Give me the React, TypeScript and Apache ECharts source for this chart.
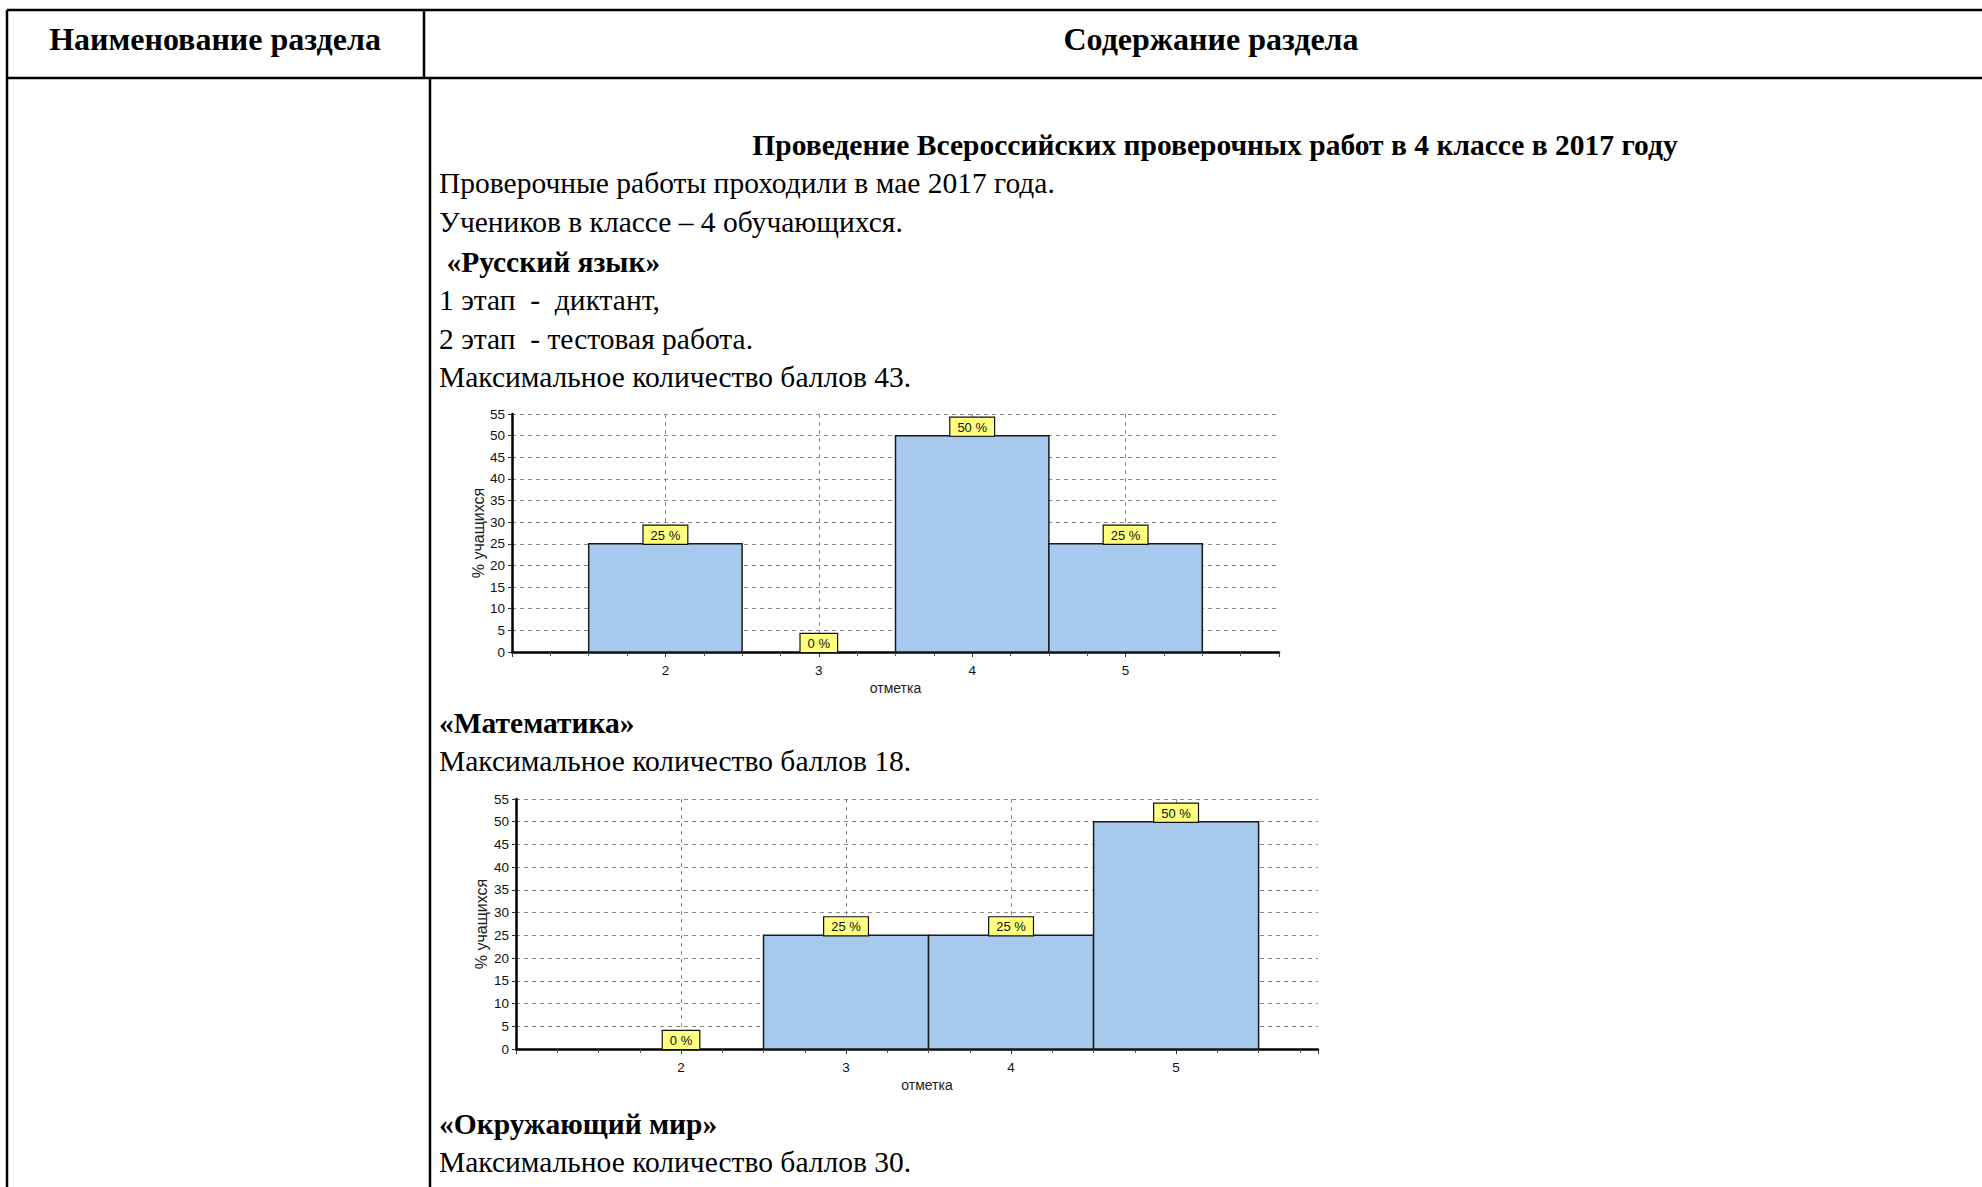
import React, { useEffect, useRef } from "react";
import * as echarts from "echarts";

// ---- data ----
const grades = ["2", "3", "4", "5"];
const russianPct = [25, 0, 50, 25];
const mathPct = [0, 25, 25, 50];
const yMax = 55;
const yStep = 5;

const headerLeft = "Наименование раздела";
const headerRight = "Содержание раздела";
const titleText = "Проведение Всероссийских проверочных работ в 4 классе в 2017 году";
const introLines = [
  "Проверочные работы проходили в мае 2017 года.",
  "Учеников в классе – 4 обучающихся.",
];
const russianHeading = " «Русский язык»";
const russianLines = [
  "1 этап  -  диктант,",
  "2 этап  - тестовая работа.",
  "Максимальное количество баллов 43.",
];
const mathHeading = "«Математика»";
const mathLines = ["Максимальное количество баллов 18."];
const worldHeading = "«Окружающий мир»";
const worldLines = ["Максимальное количество баллов 30."];
const yAxisName = "% учащихся";
const xAxisName = "отметка";

const SERIF = '"Liberation Serif", "Times New Roman", serif';
const SANS = '"Liberation Sans", Arial, sans-serif';

function toData(pct: number[]) {
  return pct.map((v, i) => [i + 1, v]);
}

function renderBar(params: any, api: any) {
  const xi = api.value(0);
  const v = api.value(1);
  const tl = api.coord([xi - 0.5, v]);
  const br = api.coord([xi + 0.5, 0]);
  const c = api.coord([xi, v]);
  const children: any[] = [];
  if (v > 0) {
    children.push({
      type: "rect",
      shape: { x: tl[0], y: tl[1], width: br[0] - tl[0], height: br[1] - tl[1] },
      style: { fill: "#A7C9EE", stroke: "#1a1a1a", lineWidth: 1.5 },
    });
  }
  children.push({
    type: "text",
    x: c[0],
    y: c[1],
    z2: 10,
    style: {
      text: v + " %",
      font: "13px " + SANS,
      fill: "#111",
      align: "center",
      verticalAlign: "bottom",
      backgroundColor: "#FFFF80",
      borderColor: "#111",
      borderWidth: 1.2,
      padding: [3, 7, 2, 7],
    },
  });
  return { type: "group", children };
}

function xAxisCfg(gridIndex: number, max: number, namePadLeft: number) {
  return {
    type: "value",
    gridIndex,
    min: 0,
    max,
    interval: 1,
    name: xAxisName,
    nameLocation: "middle",
    nameGap: 29,
    nameTextStyle: {
      fontFamily: SANS,
      fontSize: 14,
      color: "#222",
      padding: [0, 0, 0, namePadLeft],
    },
    axisLine: { show: true, onZero: false, lineStyle: { color: "#000", width: 2.5 } },
    axisTick: { show: true, length: 5, lineStyle: { color: "#333" } },
    minorTick: { show: true, splitNumber: 4, length: 4, lineStyle: { color: "#555" } },
    axisLabel: {
      margin: 11,
      color: "#111",
      fontFamily: SANS,
      fontSize: 13.5,
      formatter: (val: number) => {
        const i = Math.round(val) - 1;
        return Math.abs(val - Math.round(val)) < 1e-6 && i >= 0 && i < grades.length ? grades[i] : "";
      },
    },
    splitLine: {
      show: true,
      showMinLine: false,
      showMaxLine: false,
      lineStyle: { color: "#8a8a8a", type: [4, 4], width: 1 },
    },
  };
}

function yAxisCfg(gridIndex: number, nameGap: number) {
  return {
    type: "value",
    gridIndex,
    min: 0,
    max: yMax,
    interval: yStep,
    name: yAxisName,
    nameLocation: "middle",
    nameGap,
    nameRotate: 90,
    nameTextStyle: { fontFamily: SANS, fontSize: 16, color: "#222" },
    axisLine: { show: true, lineStyle: { color: "#000", width: 2.5 } },
    axisTick: { show: true, length: 4, lineStyle: { color: "#333" } },
    axisLabel: { margin: 7, color: "#111", fontFamily: SANS, fontSize: 13.5 },
    splitLine: {
      show: true,
      showMinLine: false,
      lineStyle: { color: "#8a8a8a", type: [4, 4], width: 1 },
    },
  };
}

function textEl(text: string, x: number, y: number, bold: boolean, size: number, align = "left") {
  return {
    type: "text",
    x,
    y,
    silent: true,
    style: {
      text,
      font: (bold ? "bold " : "") + size + "px " + SERIF,
      fill: "#000",
      align,
      verticalAlign: "middle",
    },
  };
}

function lineEl(x1: number, y1: number, x2: number, y2: number) {
  return {
    type: "line",
    silent: true,
    shape: { x1, y1, x2, y2 },
    style: { stroke: "#000", lineWidth: 2.5 },
  };
}

export default function App() {
  const ref = useRef<HTMLDivElement>(null);
  useEffect(() => {
    if (!ref.current) return;
    const chart = echarts.init(ref.current, undefined, { renderer: "svg" });
    const X0 = 439;
    const B = 29.5;
    const H = 32;
    const graphics: any[] = [
      lineEl(7, 10, 1982, 10),
      lineEl(7, 78, 1982, 78),
      lineEl(7, 10, 7, 1187),
      lineEl(424, 10, 424, 78),
      lineEl(430, 78, 430, 1187),
      textEl(headerLeft, 215, 39, true, H, "center"),
      textEl(headerRight, 1211, 39, true, H, "center"),
      textEl(titleText, 1215, 145, true, B, "center"),
      textEl(introLines[0], X0, 183, false, B),
      textEl(introLines[1], X0, 222, false, B),
      textEl(russianHeading, X0, 262, true, B),
      textEl(russianLines[0], X0, 300, false, B),
      textEl(russianLines[1], X0, 339, false, B),
      textEl(russianLines[2], X0, 377, false, B),
      textEl(mathHeading, X0, 723, true, B),
      textEl(mathLines[0], X0, 761, false, B),
      textEl(worldHeading, X0, 1124, true, B),
      textEl(worldLines[0], X0, 1162, false, B),
    ];
    chart.setOption({
      animation: false,
      backgroundColor: "#fff",
      grid: [
        { left: 512, top: 414, width: 767, height: 238 },
        { left: 516, top: 799, width: 802, height: 250 },
      ],
      xAxis: [xAxisCfg(0, 5, 0), xAxisCfg(1, 4.86, 20)],
      yAxis: [yAxisCfg(0, 25), yAxisCfg(1, 27)],
      series: [
        {
          type: "custom",
          xAxisIndex: 0,
          yAxisIndex: 0,
          renderItem: renderBar,
          data: toData(russianPct),
          encode: { x: 0, y: 1 },
          clip: false,
        },
        {
          type: "custom",
          xAxisIndex: 1,
          yAxisIndex: 1,
          renderItem: renderBar,
          data: toData(mathPct),
          encode: { x: 0, y: 1 },
          clip: false,
        },
      ],
      graphic: graphics,
    });
    return () => chart.dispose();
  }, []);
  return (
    <div
      ref={ref}
      style={{ position: "fixed", left: 0, top: 0, width: 1982, height: 1187, background: "#fff" }}
    />
  );
}
